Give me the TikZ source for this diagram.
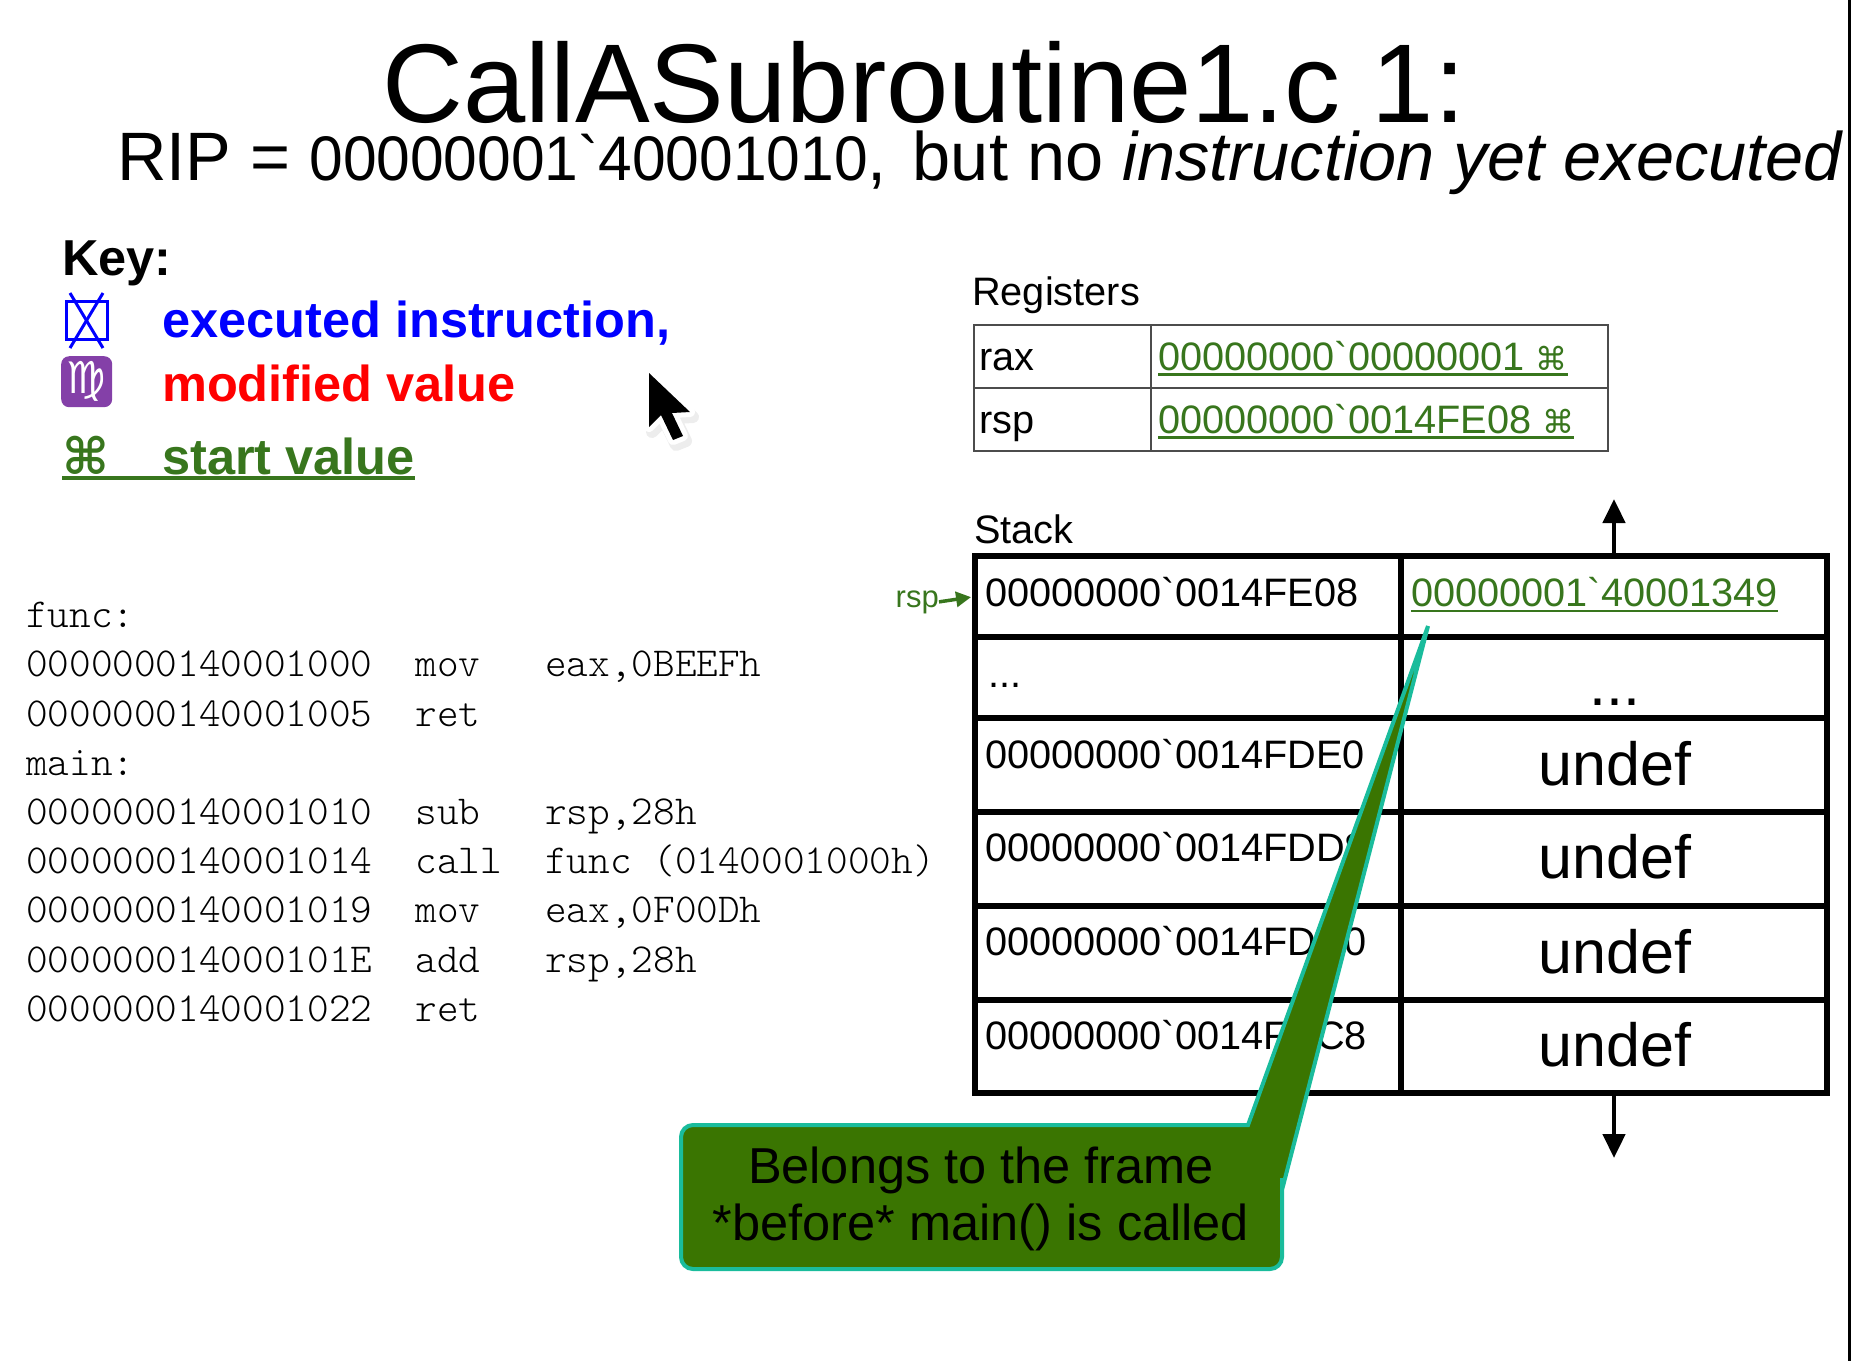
\documentclass[tikz,border=0pt]{standalone}
\usepackage{fontspec}
\setmainfont[Ligatures=TeXOff]{Liberation Sans}
\newfontfamily\symbfont{DejaVu Sans}
\newfontfamily\codefont{Latin Modern Mono Light}
\usetikzlibrary{arrows.meta}
\definecolor{sgreen}{HTML}{38761d}
\definecolor{sbox}{HTML}{3a7501}
\definecolor{steal}{HTML}{1abc9c}
\definecolor{spurple}{HTML}{8440a8}
\newcommand{\fsize}[1]{\fontsize{#1}{#1}\selectfont}
\newcommand{\ulined}[2][3pt]{\setbox0\hbox{#2}\rlap{\raisebox{-6pt}{\rule{\wd0}{#1}}}\box0}
\newcommand{\pointerpath}{(649,373) -- (649,427) -- (661,415) -- (673,440) -- (683,436) -- (672,413) -- (690,412) -- cycle}
\tikzset{
  plain/.style={inner sep=0pt, anchor=base west, font=\fsize{39.7}},
  keytext/.style={inner sep=0pt, anchor=base west, font=\fsize{50.5}\bfseries},
  regcell/.style={draw=black!70, line width=1.2pt, anchor=north west, inner sep=0pt, outer sep=0pt},
  stackcell/.style={draw=black, line width=5.5pt, anchor=north west, inner sep=0pt, outer sep=0pt},
  undef/.style={inner sep=0pt, anchor=base, font=\fsize{61}},
  bigarrow/.style={draw=black, line width=4.5pt, -{Triangle[length=24pt,width=22pt]}}
}
\begin{document}
\begin{tikzpicture}[x=1pt,y=-1pt]
        \useasboundingbox (0,0) rectangle (1851,1361);
        \draw[black, line width=2.5pt] (1849.5,0) -- (1849.5,1361);

        \node[inner sep=0pt, anchor=base, font=\fsize{112}] (title) at (924,122) {CallASubroutine1.c 1:};
        \node[inner sep=0pt, anchor=base west, font=\fsize{68.5}] (subtitle) at (117,180) {RIP = {\fsize{63}\addfontfeature{FakeStretch=0.96}00000001`40001010}, \hspace{7pt}but no \textit{instruction yet executed}};

        % key
        \node[keytext] (keyhead) at (62,275) {Key:};
        \node[draw=blue, line width=3pt, minimum width=41pt, minimum height=38pt, inner sep=0pt, outer sep=0pt, anchor=north west] (keybox) at (66,301) {};
        \coordinate (xa) at (70,293);
        \coordinate (xb) at (103,348);
        \coordinate (xc) at (103,293);
        \coordinate (xd) at (70,348);
        \draw[blue, line width=3pt] (xa) -- (xb);
        \draw[blue, line width=3pt] (xc) -- (xd);
        \node[keytext, blue] (keyexec) at (162,337) {executed instruction,};
        \node[fill=spurple, rounded corners=8pt, minimum width=51pt, minimum height=51pt, inner sep=0pt, anchor=north west] (keyvirgo) at (61,356) {};
        \node[inner sep=0pt, white, font=\fsize{44}\symbfont] (keyvirgotext) at (keyvirgo) {♍};
        \node[keytext, red] (keymod) at (162,401) {modified value};
        \node[keytext, sgreen] (keystart) at (62,474) {\ulined[4pt]{\makebox[100pt][l]{\symbfont ⌘}\bfseries start value}};

        % mouse pointer
        \begin{scope}[shift={(3,5)}]
        \draw[black, opacity=.07, line width=12pt, line join=round] \pointerpath;
        \end{scope}
        \draw[white, line width=10pt, line join=round] \pointerpath;
        \fill[black] \pointerpath;

        % code
        \node[inner sep=0pt, anchor=north west, align=left, font=\fsize{41.2}\codefont] (code) at (26,602) {func:\\[8pt]
0000000140001000~~mov~~~eax,0BEEFh\\[8pt]
0000000140001005~~ret\\[8pt]
main:\\[8pt]
0000000140001010~~sub~~~rsp,28h\\[8pt]
0000000140001014~~call~~func~(0140001000h)\\[8pt]
0000000140001019~~mov~~~eax,0F00Dh\\[8pt]
000000014000101E~~add~~~rsp,28h\\[8pt]
0000000140001022~~ret};

        % registers
        \node[plain] (reghead) at (972,305) {Registers};
        \node[regcell, minimum width=177pt, minimum height=63pt] (rraxn) at (974,325) {};
        \node[regcell, minimum width=457pt, minimum height=63pt] (rraxv) at (1151,325) {};
        \node[regcell, minimum width=177pt, minimum height=63pt] (rrspn) at (974,388) {};
        \node[regcell, minimum width=457pt, minimum height=63pt] (rrspv) at (1151,388) {};
        \node[plain] (traxn) at (979,370) {rax};
        \node[plain, sgreen] (traxv) at (1158,370) {\ulined{00000000`00000001 {\fsize{32}\symbfont ⌘}}};
        \node[plain] (trspn) at (979,433) {rsp};
        \node[plain, sgreen] (trspv) at (1158,433) {\ulined{00000000`0014FE08 {\fsize{32}\symbfont ⌘}}};

        % stack
        \node[plain] (stackhead) at (974,543) {Stack};
        \node[stackcell, minimum width=426pt, minimum height=81pt] (a1) at (975,556) {};
        \node[stackcell, minimum width=426pt, minimum height=81pt] (v1) at (1401,556) {};
        \node[stackcell, minimum width=426pt, minimum height=81pt] (a2) at (975,637) {};
        \node[stackcell, minimum width=426pt, minimum height=81pt] (v2) at (1401,637) {};
        \node[stackcell, minimum width=426pt, minimum height=94pt] (a3) at (975,718) {};
        \node[stackcell, minimum width=426pt, minimum height=94pt] (v3) at (1401,718) {};
        \node[stackcell, minimum width=426pt, minimum height=94pt] (a4) at (975,812) {};
        \node[stackcell, minimum width=426pt, minimum height=94pt] (v4) at (1401,812) {};
        \node[stackcell, minimum width=426pt, minimum height=94pt] (a5) at (975,906) {};
        \node[stackcell, minimum width=426pt, minimum height=94pt] (v5) at (1401,906) {};
        \node[stackcell, minimum width=426pt, minimum height=93pt] (a6) at (975,1000) {};
        \node[stackcell, minimum width=426pt, minimum height=93pt] (v6) at (1401,1000) {};

        \node[plain] (ta1) at (985,606) {00000000`0014FE08};
        \node[plain, sgreen] (tv1) at (1411,606) {\ulined[2pt]{00000001`40001349}};
        \node[plain] (ta2) at (988,687) {...};
        \node[undef] (tv2) at (1615,705) {...};
        \node[plain] (ta3) at (985,768) {00000000`0014FDE0};
        \node[undef] (tv3) at (1615,785) {undef};
        \node[plain] (ta4) at (985,861) {00000000`0014FDD8};
        \node[undef] (tv4) at (1615,878) {undef};
        \node[plain] (ta5) at (985,955) {00000000`0014FDD0};
        \node[undef] (tv5) at (1615,973) {undef};
        \node[plain] (ta6) at (985,1049) {00000000`0014FDC8};
        \node[undef] (tv6) at (1615,1066) {undef};

        \coordinate (uptip) at (1614,499);
        \coordinate (downtip) at (1614,1158);
        \path[bigarrow] (v1.north) -- (uptip);
        \path[bigarrow] (v6.south) -- (downtip);

        \node[inner sep=0pt, anchor=base east, sgreen, font=\fsize{31}] (rsplabel) at (939,607) {rsp};
        \draw[sgreen, line width=3.5pt, shorten >=4pt, -{Triangle[length=15pt,width=15pt]}] (rsplabel.east) -- (a1.west);

        % callout
        \coordinate (tip) at (1428,626);
        \filldraw[fill=sbox, draw=steal, line width=4pt, rounded corners=12pt] (900,1125) -- (681,1125) -- (681,1269) -- (1282,1269) -- (1282,1190) [sharp corners] -- (1282,1190) -- (tip) -- (1248,1125) -- cycle;
        \node[inner sep=0pt, align=center, font=\fsize{50.5}] (callouttext) at (981,1199) {Belongs to the frame\\[7pt]*before* main() is called};

    \end{tikzpicture}
\end{document}
